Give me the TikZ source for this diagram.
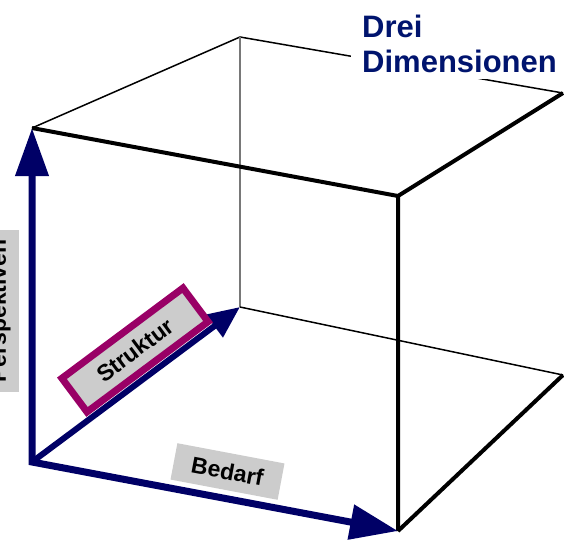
\documentclass[tikz,border=0pt]{standalone}
\usepackage{fontspec}
\setmainfont{Liberation Sans}
\usetikzlibrary{arrows.meta}
\definecolor{navyarrow}{RGB}{0,0,102}
\definecolor{navytext}{RGB}{0,20,110}
\definecolor{plum}{RGB}{153,0,102}
\definecolor{labelgray}{RGB}{204,204,204}
\definecolor{backgray}{RGB}{120,120,120}
\begin{document}
\begin{tikzpicture}[x=1pt,y=-1pt,
  thinedge/.style={line width=1.5pt, black},
  backedge/.style={line width=1.8pt, backgray},
  thickedge/.style={line width=4pt, black},
  axis/.style={line width=7pt, navyarrow},
  labelbox/.style={fill=labelgray, text=black, inner sep=0pt,
    font=\bfseries\fontsize{23}{23}\selectfont},
  titletext/.style={anchor=base west, inner sep=0pt, text=navytext,
    font=\bfseries\fontsize{31}{35}\selectfont}]
\useasboundingbox (0,0) rectangle (564,541);
\clip (0,0) rectangle (564,541);
% cube corners
\coordinate (FTL) at (32,128);
\coordinate (FTR) at (398,196);
\coordinate (FBR) at (398,531);
\coordinate (O)   at (32,462);
\coordinate (BTL) at (240,37);
\coordinate (BTR) at (563,93);
\coordinate (BBR) at (563,375);
\coordinate (BBL) at (240,307);
% back / hidden edges
\draw[thinedge] (FTL) -- (BTL) -- (BTR);
\draw[backedge] (BTL) -- (BBL);
\draw[thinedge] (BBL) -- (BBR);
% front edges
\draw[thickedge] (FTL) -- (FTR) -- (FBR);
\draw[thickedge] (FTR) -- (BTR);
\draw[thickedge] (FBR) -- (BBR);
% axes
\draw[axis, {Triangle[length=48pt,width=32pt]}-{Triangle[length=48pt,width=34pt]}] (FTL) -- (O) -- (FBR);
\draw[axis, line width=6pt, -{Triangle[length=32pt,width=27pt]}] (O) -- (BBL);
% labels
\node[labelbox, rotate=90, minimum width=162pt, minimum height=37pt] (persp) at (0,311) {Perspektiven};
\node[labelbox, rotate=-10.7, minimum width=109pt, minimum height=37pt] (bedarf) at (227.5,471.5) {Bedarf};
\node[labelbox, draw=plum, line width=7pt, rotate=36.7, minimum width=151pt, minimum height=42pt] (struktur) at (135,350) {Struktur};
% title
\node[titletext] (drei) at (362,37) {Drei};
\node[titletext, fill=white, inner xsep=11pt, inner ysep=7pt, xshift=-11pt] (dim) at (362,72) {Dimensionen};
\end{tikzpicture}
\end{document}
